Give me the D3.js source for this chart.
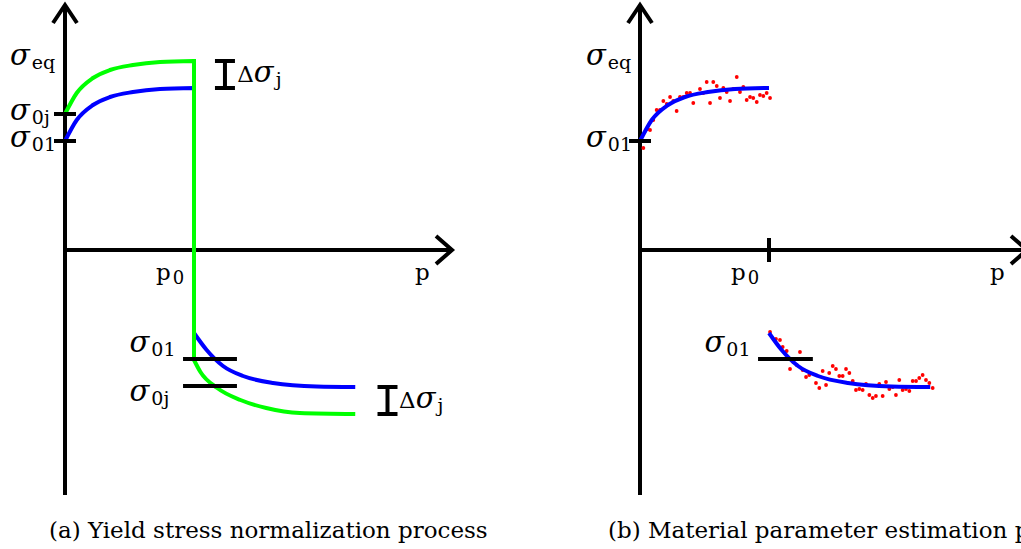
<!DOCTYPE html>
<html>
<head>
<meta charset="utf-8">
<script src="https://cdn.jsdelivr.net/npm/d3@7"></script>
<style>
  body { margin: 0; background: #fff; }
  svg { display: block; }
  text { font-family: "DejaVu Serif", "Liberation Serif", serif; fill: #000; }
</style>
</head>
<body>
<svg id="fig" width="1021" height="549"></svg>
<script>
// Equivalent plastic strain p (p0 = 1) and equivalent stress (sigma_01 = 109 units)
const pMax = 3;
const sMax = 245;
const p0 = 1;
const sigma01 = 109;
const sigma0j = 136;

// Hardening curve during first loading, reference (blue) and shifted (green)
const loadP = [0, 0.091, 0.217, 0.349, 0.527, 0.736, 1.0];
const blueLoadS = [109, 130, 145, 153, 158, 161, 162];
const greenLoadS = [136, 157, 172, 180, 185, 188, 189];

// Reverse loading branch after p0
const blueReverseP = [1.0, 1.098, 1.225, 1.38, 1.612, 1.951, 2.25];
const blueReverseS = [-83, -100, -116, -126, -133, -136.5, -137];
const greenReverseP = [1.0, 1.05, 1.18, 1.36, 1.56, 1.82, 2.25];
const greenReverseS = [-110, -122, -138, -150, -158, -163, -164];

// Measured points used for the parameter fit
const loadMeasP = [0.026, 0.060, 0.078, 0.103, 0.129, 0.155, 0.181, 0.207, 0.233, 0.258,
  0.284, 0.310, 0.336, 0.362, 0.388, 0.413, 0.465, 0.491, 0.517, 0.543,
  0.568, 0.595, 0.620, 0.646, 0.672, 0.698, 0.723, 0.750, 0.775, 0.801,
  0.827, 0.853, 0.878, 0.905, 0.930, 0.956, 0.982, 1.008];
const loadMeasS = [102, 121, 120, 130, 140, 140, 149, 146, 153, 149,
  139, 153, 153, 157, 157, 147, 161, 157, 168, 147,
  168, 164, 152, 162, 158, 149, 161, 173, 158, 163,
  150, 153, 152, 148, 155, 154, 157, 152];
const reverseMeasP = [1.008, 1.054, 1.085, 1.106, 1.137, 1.163, 1.188, 1.215, 1.240, 1.261,
  1.287, 1.312, 1.364, 1.390, 1.416, 1.442, 1.467, 1.494, 1.519, 1.545,
  1.571, 1.597, 1.623, 1.649, 1.674, 1.700, 1.726, 1.752, 1.778, 1.804,
  1.829, 1.855, 1.881, 1.907, 1.933, 1.959, 1.984, 2.010, 2.036, 2.062,
  2.088, 2.114, 2.140, 2.165, 2.191, 2.217, 2.243, 2.269];
const reverseMeasS = [-82, -89, -90, -97, -101, -119, -112, -115, -102, -120,
  -127, -125, -133, -138, -121, -135, -123, -116, -119, -126,
  -126, -119, -123, -131, -140, -139, -140, -134, -145, -148,
  -146, -134, -146, -132, -139, -137, -145, -130, -140, -139,
  -141, -131, -131, -128, -125, -130, -133, -138];

const captions = ["(a) Yield stress normalization process", "(b) Material parameter estimation process"];

const svg = d3.select("#fig");
const x = d3.scaleLinear().domain([0, pMax]).range([0, 387]);
const y = d3.scaleLinear().domain([-sMax, sMax]).range([495, 5]);

const pts = (P, S) => P.map((p, i) => [p, S[i]]);
const line = d3.line().x(d => x(d[0])).y(d => y(d[1])).curve(d3.curveMonotoneX);
// loading branch, vertical unloading at p0, then the reverse branch
const joined = (a, b) => line(a) + "L" + line(b).slice(1);

const BLUE = "#0000ff", GREEN = "#00ff00", RED = "#ff0000";
const SW = 4;

function axes(g) {
  g.append("line").attr("x1", x(0)).attr("x2", x(0)).attr("y1", y(-sMax)).attr("y2", y(sMax))
    .attr("stroke", "#000").attr("stroke-width", SW);
  g.append("line").attr("x1", x(0)).attr("x2", x(pMax)).attr("y1", y(0)).attr("y2", y(0))
    .attr("stroke", "#000").attr("stroke-width", SW);
  g.append("path")
    .attr("d", `M${x(0) - 12},${y(sMax) + 18}L${x(0)},${y(sMax)}L${x(0) + 12},${y(sMax) + 18}`)
    .attr("fill", "none").attr("stroke", "#000").attr("stroke-width", SW);
  g.append("path")
    .attr("d", `M${x(pMax) - 16},${y(0) - 14}L${x(pMax)},${y(0)}L${x(pMax) - 16},${y(0) + 14}`)
    .attr("fill", "none").attr("stroke", "#000").attr("stroke-width", SW);
  // p0 tick
  g.append("line").attr("x1", x(p0)).attr("x2", x(p0)).attr("y1", y(0) - 12).attr("y2", y(0) + 12)
    .attr("stroke", "#000").attr("stroke-width", SW);
}

function hTick(g, x1, x2, s) {
  g.append("line").attr("x1", x1).attr("x2", x2).attr("y1", y(s)).attr("y2", y(s))
    .attr("stroke", "#000").attr("stroke-width", SW);
}

// symbol (italic sigma or upright p) followed by a subscript
function label(g, px, py, main, sub, opts = {}) {
  const isP = main === "p";
  const t = g.append("text").attr("x", px).attr("y", py);
  if (opts.delta) t.append("tspan").attr("font-size", 23).text("\u0394");
  t.append("tspan").attr("font-size", isP ? 23 : 29)
    .attr("font-style", isP ? "normal" : "italic").text(isP ? "p" : "\u03c3");
  t.append("tspan").attr("font-size", isP ? 18 : 19).attr("dy", opts.dy ?? 4).attr("dx", 2).text(sub);
  return t;
}

function bracket(g, px, s1, s2) {
  g.append("line").attr("x1", px).attr("x2", px).attr("y1", y(s1)).attr("y2", y(s2))
    .attr("stroke", "#000").attr("stroke-width", SW);
  [s1, s2].forEach(s => g.append("line").attr("x1", px - 10).attr("x2", px + 10)
    .attr("y1", y(s)).attr("y2", y(s)).attr("stroke", "#000").attr("stroke-width", SW));
}

// ---------- panel (a) ----------
const ga = svg.append("g").attr("transform", "translate(65,0)");
axes(ga);
ga.append("path").attr("d", joined(pts(loadP, blueLoadS), pts(blueReverseP, blueReverseS)))
  .attr("fill", "none").attr("stroke", BLUE).attr("stroke-width", SW);
ga.append("path").attr("d", joined(pts(loadP, greenLoadS), pts(greenReverseP, greenReverseS)))
  .attr("fill", "none").attr("stroke", GREEN).attr("stroke-width", SW);
hTick(ga, x(0) - 11, x(0) + 11, sigma0j);
hTick(ga, x(0) - 11, x(0) + 11, sigma01);
hTick(ga, x(0.915), x(1.333), -sigma01);
hTick(ga, x(0.915), x(1.333), -sigma0j);
bracket(ga, x(1.24), blueLoadS[blueLoadS.length - 1], greenLoadS[greenLoadS.length - 1]);
bracket(ga, x(2.5), blueReverseS[blueReverseS.length - 1], greenReverseS[greenReverseS.length - 1]);

label(ga, x(0) - 55, 65, "s", "eq");
label(ga, x(0) - 55, y(sigma0j) + 6, "s", "0j");
label(ga, x(0) - 55, y(sigma01) + 6, "s", "01");
label(ga, x(0.5), y(-sigma01) - 7, "s", "01");
label(ga, x(0.5), y(-sigma0j) + 15, "s", "0j");
label(ga, x(1.335), 82, "s", "j", { delta: true });
label(ga, x(2.59), 408, "s", "j", { delta: true });
label(ga, x(p0) - 38, 280, "p", "0");
ga.append("text").attr("x", x(pMax) - 37).attr("y", 280).attr("font-size", 23).text("p");

// ---------- panel (b) ----------
const gb = svg.append("g").attr("transform", "translate(640,0)");
axes(gb);
gb.selectAll("circle.load").data(pts(loadMeasP, loadMeasS)).join("circle")
  .attr("class", "load").attr("cx", d => x(d[0])).attr("cy", d => y(d[1])).attr("r", 1.9).attr("fill", RED);
gb.selectAll("circle.rev").data(pts(reverseMeasP, reverseMeasS)).join("circle")
  .attr("class", "rev").attr("cx", d => x(d[0])).attr("cy", d => y(d[1])).attr("r", 1.9).attr("fill", RED);
gb.append("path").attr("d", line(pts(loadP, blueLoadS)))
  .attr("fill", "none").attr("stroke", BLUE).attr("stroke-width", SW);
gb.append("path").attr("d", line(pts(blueReverseP, blueReverseS)))
  .attr("fill", "none").attr("stroke", BLUE).attr("stroke-width", SW);
hTick(gb, x(0) - 11, x(0) + 11, sigma01);
hTick(gb, x(0.915), x(1.34), -sigma01);
label(gb, x(0) - 54, 65, "s", "eq");
label(gb, x(0) - 54, y(sigma01) + 6, "s", "01");
label(gb, x(0.5), y(-sigma01) - 7, "s", "01");
label(gb, x(p0) - 38, 280, "p", "0");
gb.append("text").attr("x", x(pMax) - 37).attr("y", 280).attr("font-size", 23).text("p");

// ---------- captions ----------
svg.append("text").attr("x", 49).attr("y", 538).attr("font-size", 23).text(captions[0]);
svg.append("text").attr("x", 608).attr("y", 538).attr("font-size", 23).text(captions[1]);
</script>
</body>
</html>
